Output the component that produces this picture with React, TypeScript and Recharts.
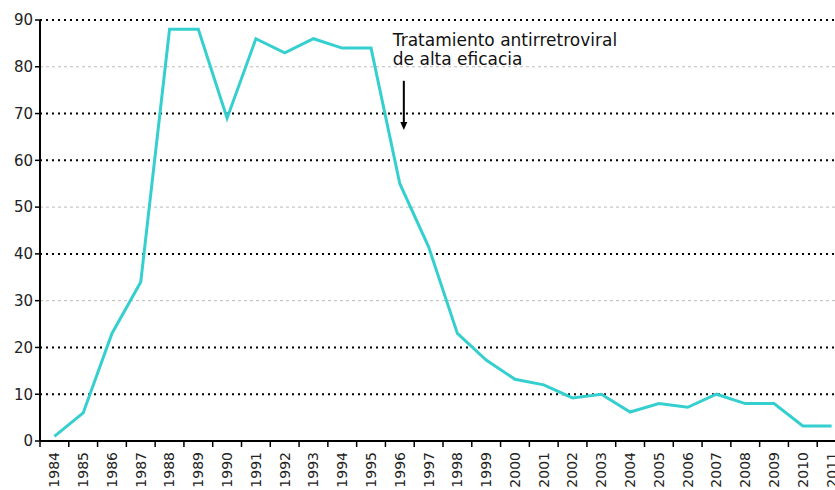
import { LineChart, Line, XAxis, YAxis, ReferenceLine } from "recharts";

const years = [
  "1984", "1985", "1986", "1987", "1988", "1989", "1990", "1991", "1992", "1993",
  "1994", "1995", "1996", "1997", "1998", "1999", "2000", "2001", "2002", "2003",
  "2004", "2005", "2006", "2007", "2008", "2009", "2010", "2011",
];
const cases = [
  1, 6, 23, 34, 88, 88, 69, 86, 83, 86,
  84, 84, 55, 41.5, 23, 17.3, 13.2, 12, 9.2, 10,
  6.2, 8, 7.2, 10, 8, 8, 3.2, 3.2,
];
const yTicks = [0, 10, 20, 30, 40, 50, 60, 70, 80, 90];
const dottedLevels = [10, 20, 40, 60, 70, 90];
const dashedLevels = [30, 50, 80];
const noteLines = ["Tratamiento antirretroviral", "de alta eficacia"];
const noteYear = "1996";
const arrowFrom = 77;
const arrowTo = 66.5;

const data = years.map((year, i) => ({ year, value: cases[i] }));

const FONT = "'DejaVu Sans', Verdana, sans-serif";
const BAND = 806 / years.length;

function YearTick(props: any) {
  const { x, y, payload } = props;
  return (
    <g transform={`translate(${x},${y})`}>
      <line x1={-BAND / 2} y1={-8} x2={-BAND / 2} y2={-2} stroke="#000" strokeWidth={1.5} />
      <text
        transform="rotate(-90)"
        x={-3}
        y={0}
        dy="0.35em"
        textAnchor="end"
        fontSize={14}
        fontFamily={FONT}
        fill="#222"
      >
        {payload.value}
      </text>
    </g>
  );
}

function Arrow(props: any) {
  const { x1, y1, y2 } = props;
  const x = x1 + 4;
  return (
    <g>
      <text x={x - 11} y={y1 - 35} fontSize={17} fontFamily={FONT} fill="#111">
        {noteLines[0]}
      </text>
      <text x={x - 11} y={y1 - 16} fontSize={17} fontFamily={FONT} fill="#111">
        {noteLines[1]}
      </text>
      <line x1={x} y1={y1} x2={x} y2={y2 - 6} stroke="#000" strokeWidth={2} />
      <polygon points={`${x - 3.5},${y2 - 8} ${x + 3.5},${y2 - 8} ${x},${y2}`} fill="#000" />
    </g>
  );
}

export default function App() {
  return (
    <div
      style={{
        position: "fixed",
        left: 0,
        top: 0,
        width: 835,
        height: 490,
        overflow: "hidden",
        background: "#fff",
      }}
    >
      <LineChart
        width={850}
        height={490}
        data={data}
        margin={{ top: 20, right: 4, bottom: 0, left: 0 }}
      >
        {dashedLevels.map((v) => (
          <ReferenceLine key={`d${v}`} y={v} stroke="#bbb" strokeWidth={1} strokeDasharray="3 3" />
        ))}
        {dottedLevels.map((v) => (
          <ReferenceLine key={`t${v}`} y={v} stroke="#000" strokeWidth={2} strokeDasharray="2 4" />
        ))}
        <XAxis
          dataKey="year"
          scale="band"
          interval={0}
          height={49}
          tickLine={false}
          axisLine={{ stroke: "#000", strokeWidth: 2 }}
          tick={<YearTick />}
        />
        <YAxis
          domain={[0, 90]}
          ticks={yTicks}
          width={40}
          tickSize={5}
          tickLine={{ stroke: "#000", strokeWidth: 1.5 }}
          axisLine={{ stroke: "#000", strokeWidth: 2 }}
          tick={{ fontSize: 15, fontFamily: FONT, fill: "#222" }}
          interval={0}
        />
        <ReferenceLine
          segment={[
            { x: noteYear, y: arrowFrom },
            { x: noteYear, y: arrowTo },
          ]}
          shape={<Arrow />}
        />
        <Line
          type="linear"
          dataKey="value"
          stroke="#36CFCF"
          strokeWidth={3}
          dot={false}
          isAnimationActive={false}
        />
      </LineChart>
    </div>
  );
}
